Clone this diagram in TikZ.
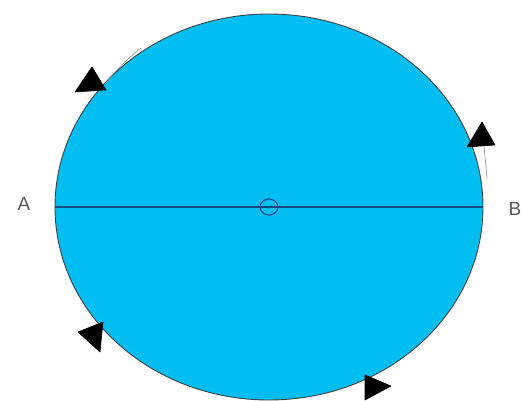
\documentclass[tikz,border=0pt]{standalone}
\usepackage{fontspec}
\setmainfont{Liberation Sans}
\begin{document}
\begin{tikzpicture}[x=1pt,y=-1pt,
  lbl/.style={text=black!65, font=\fontsize{19}{19}\selectfont, inner sep=0pt},
  tri/.style={fill=black, draw=black, line join=round, line width=0.6pt},
  shaft/.style={draw=black!45, line width=0.6pt}]
\useasboundingbox (0,0) rectangle (522,401);
\definecolor{sky}{RGB}{0,190,242}
\definecolor{dline}{RGB}{15,75,130}
% ellipse
\draw[fill=sky, draw=black!75, line width=0.9pt] (269,207) ellipse [x radius=214, y radius=193];
% diameter
\coordinate (pA) at (55,207);
\coordinate (pB) at (483,207);
\coordinate (pO) at (269,207);
\draw[dline, line width=1.6pt] (pA) -- (pB);
\draw[dline, line width=1.1pt] (pO) ellipse [x radius=9, y radius=8];
% labels
\node[lbl] (A) at (24,204) {A};
\node[lbl] (B) at (515,209) {B};
% arrow shafts
\draw[shaft] (105,84) .. controls (116,70) and (127,59) .. (141,48);
\draw[shaft] (484,146) -- (487,178);
% arrowheads
\fill[tri] (92,67) -- (75,92) -- (106,90) -- cycle;
\fill[tri] (482,122) -- (467,147) -- (495,145) -- cycle;
\fill[tri] (78,332) -- (103,322) -- (100,352) -- cycle;
\fill[tri] (365,375) -- (365,400) -- (391,386) -- cycle;
\end{tikzpicture}
\end{document}
